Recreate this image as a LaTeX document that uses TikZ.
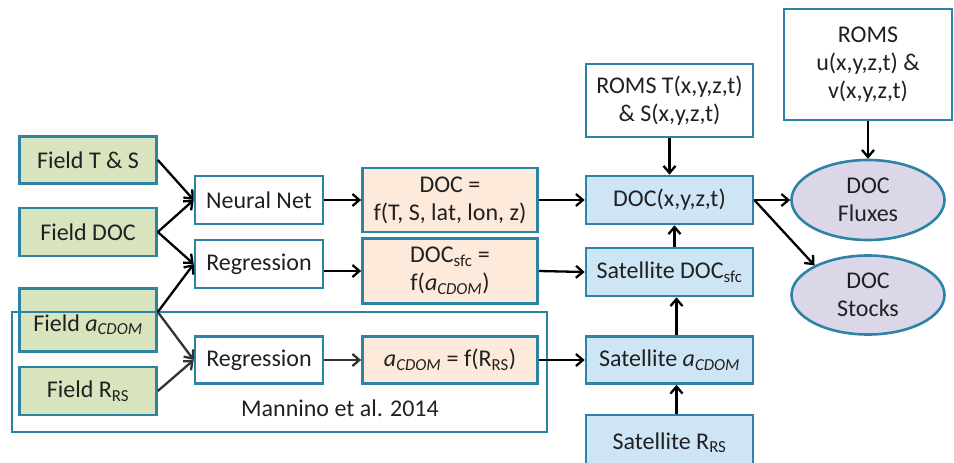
\documentclass[tikz,border=0pt]{standalone}
\usepackage{fontspec}
\setmainfont{Carlito}
\usetikzlibrary{arrows.meta,shapes.geometric}
\definecolor{bord}{HTML}{2C84A4}
\definecolor{txt}{HTML}{202020}
\definecolor{greenf}{HTML}{D7E4BD}
\definecolor{peachf}{HTML}{FDEADA}
\definecolor{bluef}{HTML}{CDE5F5}
\definecolor{purpf}{HTML}{DCD6E9}
\newcommand{\acd}{{\itshape a}\textsubscript{\itshape CDOM}}
\begin{document}
\begin{tikzpicture}[x=1pt,y=-1pt,
  font=\fontsize{24}{28}\selectfont,
  box/.style={draw=bord, line width=2.6pt, inner sep=0pt, align=center, text=txt},
  fieldbox/.style={box, fill=greenf, minimum width=137pt},
  whitebox/.style={box, fill=white},
  peachbox/.style={box, fill=peachf, minimum width=175pt},
  bluebox/.style={box, fill=bluef, minimum width=167pt},
  ovalbox/.style={box, ellipse, fill=purpf, minimum width=153pt, minimum height=80pt},
  arr/.style={-{Straight Barb[length=7pt,width=12pt]}, line width=2.3pt, draw=black}
]
\useasboundingbox (0,0) rectangle (954,463);
% left column
\node[fieldbox, minimum height=47pt] (fts) at (88,160) {Field T \& S};
\node[fieldbox, minimum height=48pt] (fdoc) at (88,232) {Field DOC};
\node[fieldbox, minimum height=63pt] (facdom) at (88,320) {\raisebox{-11pt}[0pt][0pt]{Field \acd}};
\node[fieldbox, minimum height=48pt] (frrs) at (88,391) {Field R\textsubscript{RS}};
% methods
\node[whitebox, minimum width=128pt, minimum height=48pt] (nn) at (259,200) {Neural Net};
\node[whitebox, minimum width=128pt, minimum height=48pt] (reg1) at (259,264) {Regression};
\node[whitebox, minimum width=128pt, minimum height=47pt] (reg2) at (259,360) {Regression};
% formulas
\node[peachbox, minimum height=64pt] (doceq) at (450,200) {DOC =\\f(T, S, lat, lon, z)};
\node[peachbox, minimum height=65pt] (docsfc) at (450,271) {DOC\textsubscript{sfc} =\\f(\acd)};
\node[peachbox, minimum height=47pt] (acdom) at (450,360) {\acd{} = f(R\textsubscript{RS})};
% satellite / model column
\node[whitebox, minimum width=167pt, minimum height=73pt] (romst) at (669.5,100.5) {ROMS T(x,y,z,t)\\\& S(x,y,z,t)};
\node[bluebox, minimum height=48pt] (docxyz) at (669.5,200) {DOC(x,y,z,t)};
\node[bluebox, minimum height=48pt] (satdoc) at (669.5,272) {Satellite DOC\textsubscript{sfc}};
\node[bluebox, minimum height=47pt] (satacdom) at (669.5,360) {Satellite \acd};
\node[bluebox, minimum height=60pt] (satrrs) at (669.5,445) {\raisebox{-4pt}[0pt][0pt]{Satellite R\textsubscript{RS}}};
% right column
\node[whitebox, minimum width=168pt, minimum height=111pt] (romsu) at (868,64.5) {ROMS\\u(x,y,z,t) \&\\v(x,y,z,t)};
\node[ovalbox] (flux) at (868,200) {DOC\\Fluxes};
\node[ovalbox, minimum height=79pt] (stocks) at (868,295) {DOC\\Stocks};
% Mannino box
\node[draw=bord, line width=2.4pt, minimum width=535pt, minimum height=120pt, inner sep=0pt] (mann) at (279.5,372) {};
\node[text=txt, inner sep=0pt] (manntext) at (340,408) {Mannino et al. 2014};
% arrows
\draw[arr] (fts.east) -- (nn.west);
\draw[arr] (fdoc.east) -- (nn.west);
\draw[arr] (fdoc.east) -- (reg1.west);
\coordinate (facdomout) at ([yshift=8pt]facdom.east);
\draw[arr] (facdomout) -- (reg1.west);
\draw[arr, draw=black!80] (facdomout) -- (reg2.west);
\draw[arr, draw=black!80] (frrs.east) -- (reg2.west);
\draw[arr] (nn.east) -- (doceq.west);
\draw[arr] (reg1.east |- docsfc.west) -- (docsfc.west);
\draw[arr, draw=black!80] (reg2.east) -- (acdom.west);
\draw[arr] (doceq.east) -- (docxyz.west);
\draw[arr] (docsfc.east) -- (satdoc.west);
\draw[arr] (acdom.east) -- (satacdom.west);
\draw[arr] (romst.south) -- (docxyz.north);
\draw[arr] ([xshift=5pt]satdoc.north) -- ([xshift=5pt]docxyz.south);
\draw[arr] ([xshift=7pt]satacdom.north) -- ([xshift=7pt]satdoc.south);
\draw[arr] ([xshift=7pt]satrrs.north) -- ([xshift=7pt]satacdom.south);
\draw[arr] (romsu.south) -- (flux.north);
\draw[arr] (docxyz.east) -- (flux.west);
\draw[arr] (docxyz.east) -- (stocks.151);
\end{tikzpicture}
\end{document}
